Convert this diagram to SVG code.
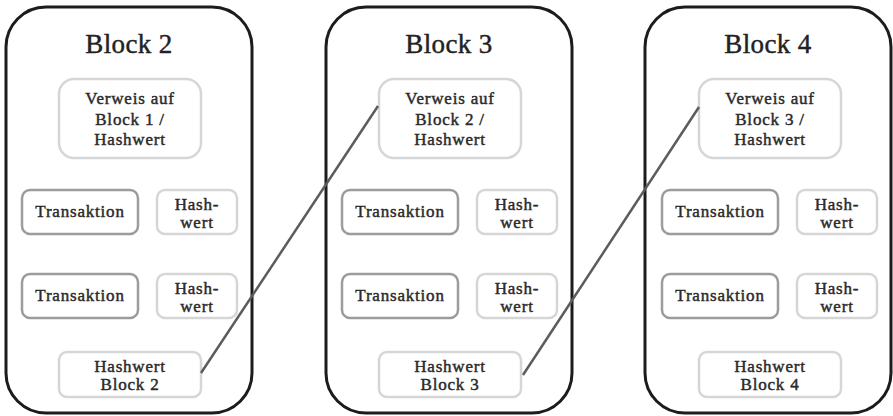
<svg xmlns="http://www.w3.org/2000/svg" width="893" height="416" viewBox="0 0 893 416">
<style>
.outer{fill:#fff;stroke:#1c1c1c;stroke-width:3}
.light{fill:#fff;stroke:#d6d6d6;stroke-width:2.5}
.dark{fill:#fff;stroke:#9c9c9c;stroke-width:2.5}
.title{font-family:"Liberation Serif",serif;font-size:27px;fill:#222;stroke:#222;stroke-width:0.45;text-anchor:middle;letter-spacing:0.4px}
.t{font-family:"Liberation Serif",serif;font-size:17px;fill:#2a2a2a;stroke:#2a2a2a;stroke-width:0.45;text-anchor:middle;letter-spacing:0.8px}
.conn{stroke:#5c5c5c;stroke-width:2.5;fill:none}
</style>
<rect width="893" height="416" fill="#fff"/>
<g id="block2">
  <rect class="outer" x="6" y="7" width="246" height="406" rx="40"/>
  <text class="title" x="129" y="53">Block 2</text>
  <g id="b2-ref"><rect class="light" x="59" y="79" width="142" height="79" rx="15"/>
    <text class="t" x="130" y="104">Verweis auf</text><text class="t" x="130" y="125">Block 1 /</text><text class="t" x="130" y="145">Hashwert</text></g>
  <g id="b2-tx1"><rect class="dark" x="22" y="190" width="116" height="44" rx="8"/><text class="t" x="80" y="217">Transaktion</text></g>
  <g id="b2-h1"><rect class="light" x="157" y="190" width="80" height="44" rx="8"/><text class="t" x="197" y="210">Hash-</text><text class="t" x="197" y="228">wert</text></g>
  <g id="b2-tx2"><rect class="dark" x="22" y="274" width="116" height="44" rx="8"/><text class="t" x="80" y="301">Transaktion</text></g>
  <g id="b2-h2"><rect class="light" x="157" y="274" width="80" height="44" rx="8"/><text class="t" x="197" y="294">Hash-</text><text class="t" x="197" y="312">wert</text></g>
  <g id="b2-hash"><rect class="light" x="59" y="352" width="142" height="45" rx="8"/><text class="t" x="130" y="372">Hashwert</text><text class="t" x="130" y="390">Block 2</text></g>
</g>
<g id="block3">
  <rect class="outer" x="326" y="7" width="246" height="406" rx="40"/>
  <text class="title" x="449" y="53">Block 3</text>
  <g id="b3-ref"><rect class="light" x="379" y="79" width="142" height="79" rx="15"/>
    <text class="t" x="450" y="104">Verweis auf</text><text class="t" x="450" y="125">Block 2 /</text><text class="t" x="450" y="145">Hashwert</text></g>
  <g id="b3-tx1"><rect class="dark" x="342" y="190" width="116" height="44" rx="8"/><text class="t" x="400" y="217">Transaktion</text></g>
  <g id="b3-h1"><rect class="light" x="477" y="190" width="80" height="44" rx="8"/><text class="t" x="517" y="210">Hash-</text><text class="t" x="517" y="228">wert</text></g>
  <g id="b3-tx2"><rect class="dark" x="342" y="274" width="116" height="44" rx="8"/><text class="t" x="400" y="301">Transaktion</text></g>
  <g id="b3-h2"><rect class="light" x="477" y="274" width="80" height="44" rx="8"/><text class="t" x="517" y="294">Hash-</text><text class="t" x="517" y="312">wert</text></g>
  <g id="b3-hash"><rect class="light" x="379" y="352" width="142" height="45" rx="8"/><text class="t" x="450" y="372">Hashwert</text><text class="t" x="450" y="390">Block 3</text></g>
</g>
<g id="block4">
  <rect class="outer" x="645" y="7" width="246" height="406" rx="40"/>
  <text class="title" x="768" y="53">Block 4</text>
  <g id="b4-ref"><rect class="light" x="699" y="79" width="142" height="79" rx="15"/>
    <text class="t" x="770" y="104">Verweis auf</text><text class="t" x="770" y="125">Block 3 /</text><text class="t" x="770" y="145">Hashwert</text></g>
  <g id="b4-tx1"><rect class="dark" x="662" y="190" width="116" height="44" rx="8"/><text class="t" x="720" y="217">Transaktion</text></g>
  <g id="b4-h1"><rect class="light" x="797" y="190" width="80" height="44" rx="8"/><text class="t" x="837" y="210">Hash-</text><text class="t" x="837" y="228">wert</text></g>
  <g id="b4-tx2"><rect class="dark" x="662" y="274" width="116" height="44" rx="8"/><text class="t" x="720" y="301">Transaktion</text></g>
  <g id="b4-h2"><rect class="light" x="797" y="274" width="80" height="44" rx="8"/><text class="t" x="837" y="294">Hash-</text><text class="t" x="837" y="312">wert</text></g>
  <g id="b4-hash"><rect class="light" x="699" y="352" width="142" height="45" rx="8"/><text class="t" x="770" y="372">Hashwert</text><text class="t" x="770" y="390">Block 4</text></g>
</g>
<g id="connectors">
  <line class="conn" x1="201" y1="373" x2="378" y2="106"/>
  <line class="conn" x1="523" y1="375" x2="699" y2="107"/>
</g>
</svg>
